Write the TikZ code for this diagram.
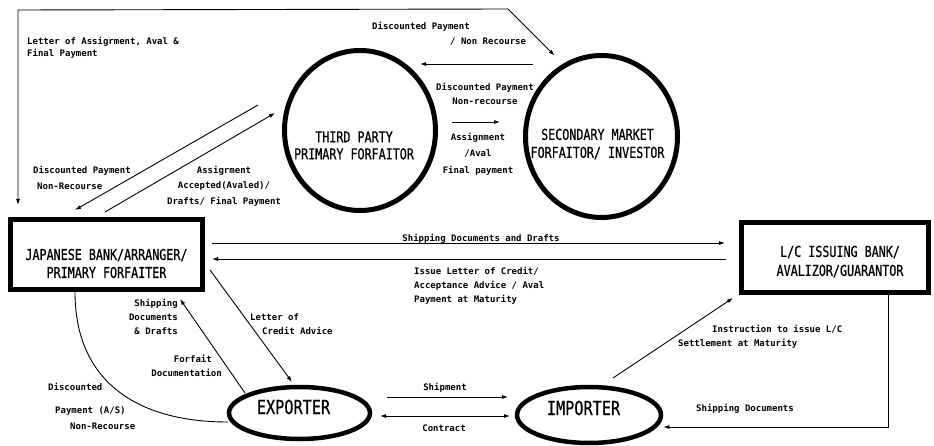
\documentclass[tikz,border=0pt]{standalone}
\usepackage{fontspec}
\usetikzlibrary{arrows.meta,shapes.geometric}
\newfontfamily\labfont{DejaVu Sans Mono}
\newfontfamily\boxfont{DejaVu Sans Mono}[FakeStretch=0.78,FakeBold=0.6]
\tikzset{
  tipa/.tip={Latex[length=6pt,width=4pt]},
  arr/.style={line width=0.9pt,-tipa},
  dbl/.style={line width=0.9pt,tipa-tipa},
  plain/.style={line width=0.9pt},
  boxshape/.style={draw,rectangle,line width=5pt,inner sep=0pt},
  ringshape/.style={draw,ellipse,line width=5pt,inner sep=0pt},
  ovalshape/.style={draw,ellipse,line width=4.5pt,inner sep=0pt},
  boxtext/.style={font=\boxfont\fontsize{15}{18}\selectfont,align=center,inner sep=0pt},
  bigtext/.style={font=\boxfont\fontsize{19.5}{21}\selectfont,inner sep=0pt},
  lab/.style={font=\labfont\bfseries\fontsize{9}{14}\selectfont,inner sep=0pt},
  labsp/.style={font=\labfont\bfseries\fontsize{9}{#1}\selectfont,inner sep=0pt},
}
\begin{document}
\begin{tikzpicture}[x=1pt,y=-1pt]
\useasboundingbox[fill=white] (0,0) rectangle (934,446);

% shapes
\node[boxshape,minimum width=192,minimum height=70] (bank) at (106.5,254.5) {};
\node[boxshape,minimum width=187,minimum height=70] (lc) at (835,257.5) {};
\node[ringshape,minimum width=151,minimum height=160] (tp) at (360,130.5) {};
\node[ringshape,minimum width=152,minimum height=162] (sm) at (601.5,136.5) {};
\node[ovalshape,minimum width=141,minimum height=52] (exp) at (299.5,413) {};
\node[ovalshape,minimum width=144,minimum height=56] (imp) at (589,415) {};

% texts in shapes
\node[boxtext] (banktext) at (106.5,263.5) {JAPANESE BANK/ARRANGER/\\PRIMARY FORFAITER};
\node[boxtext,font=\boxfont\fontsize{15}{19}\selectfont] (lctext) at (840,261.5) {L/C ISSUING BANK/\\AVALIZOR/GUARANTOR};
\node[boxtext,font=\boxfont\fontsize{15}{17}\selectfont] (tptext) at (354,145.5) {THIRD PARTY\\PRIMARY FORFAITOR};
\node[boxtext] (smtext) at (597.5,144) {SECONDARY MARKET\\FORFAITOR/ INVESTOR};
\node[bigtext] (exptext) at (293.5,407) {EXPORTER};
\node[bigtext] (imptext) at (583.5,408) {IMPORTER};

% connectors
\coordinate (tc1) at (18,10);
\coordinate (tc2) at (508,9);
\draw[dbl] ([xshift=10,yshift=12]bank.north west) -- (tc1) -- (tc2) -- ([yshift=14]sm.125);
\draw[arr] ([xshift=-68.5,yshift=-11]sm.north) -- ([xshift=60,yshift=-16]tp.north);
\draw[arr] ([xshift=14,yshift=8.5]tp.east) -- ([xshift=-23,yshift=14.5]sm.west);
\draw[arr] ([xshift=-24,yshift=25.5]tp.west) -- ([xshift=-31.5,yshift=7]bank.north);
\draw[arr] ([xshift=-1.5,yshift=5]bank.north) -- ([xshift=-7,yshift=17.5]tp.west);
\draw[arr] ([xshift=7,yshift=11.5]bank.east) -- ([xshift=-14,yshift=14.5]lc.west);
\draw[arr] ([xshift=-13,yshift=-1.5]lc.west) -- ([xshift=7,yshift=-4.5]bank.east);
\draw[arr] ([xshift=5,yshift=-15.5]bank.east) -- ([xshift=-7.5,yshift=2.75]exp.north);
\draw[arr] ([xshift=-54.5,yshift=-8.25]exp.north) -- ([xshift=73.5,yshift=-7]bank.south);
\draw[plain] ([xshift=-31.5]bank.south) .. controls +(0,90) and +(-90,0) .. ([xshift=1,yshift=-9]exp.west);
\draw[arr] ([xshift=14.75,yshift=16]exp.east) -- ([xshift=-6.75,yshift=18]imp.west);
\draw[dbl] ([xshift=7.75,yshift=-3]exp.east) -- ([xshift=-4.75,yshift=-1]imp.west);
\draw[arr] ([xshift=24,yshift=6.75]imp.north) -- ([xshift=-6,yshift=-3]lc.south west);
\draw[arr] ([xshift=53]lc.south) |- ([yshift=-12]imp.east);

% labels
\node[labsp=12.5,anchor=west,align=left] (l1) at (27,48) {Letter of Assigrment, Aval \&\\Final Payment};
\node[labsp=15,anchor=west,align=left] (l2) at (372,33.5) {Discounted Payment\\\hspace*{78pt}/ Non Recourse};
\node[lab,align=center] (l3) at (485,94) {Discounted Payment\\Non-recourse};
\node[labsp=16.5,align=center] (l4) at (478,154) {Assignment\\/Aval\\Final payment};
\node[labsp=16,anchor=west,align=left] (l5) at (33,178) {Discounted Payment\\\hspace*{4pt}Non-Recourse};
\node[labsp=15.5,align=center] (l6) at (224,186) {Assigrment\\Accepted(Avaled)/\\Drafts/ Final Payment};
\node[lab,anchor=east,align=right] (l7) at (178,317) {Shipping\\Documents\\\& Drafts};
\node[lab,anchor=east,align=right] (l8) at (222,366) {Forfait\hspace*{10pt}\\Documentation};
\node[lab,anchor=west,align=left] (l9) at (250,324) {Letter of\\\hspace*{12pt}Credit Advice};
\node[labsp=16,anchor=west,align=left] (l10) at (48,406) {Discounted\\[7pt]\hspace*{7pt}Payment (A/S)\\\hspace*{22pt}Non-Recourse};
\node[lab,anchor=base] (l11) at (481,241.5) {Shipping Documents and Drafts};
\node[lab,anchor=west,align=left] (l12) at (414,286) {Issue Letter of Credit/\\Acceptance Advice / Aval\\Payment at Maturity};
\node[lab] (l13) at (445,388) {Shipment};
\node[lab] (l14) at (444,428) {Contract};
\node[lab,anchor=west,align=left] (l15) at (678,337) {\hspace*{34pt}Instruction to issue L/C\\Settlement at Maturity};
\node[lab] (l16) at (745,409) {Shipping Documents};
\end{tikzpicture}
\end{document}
